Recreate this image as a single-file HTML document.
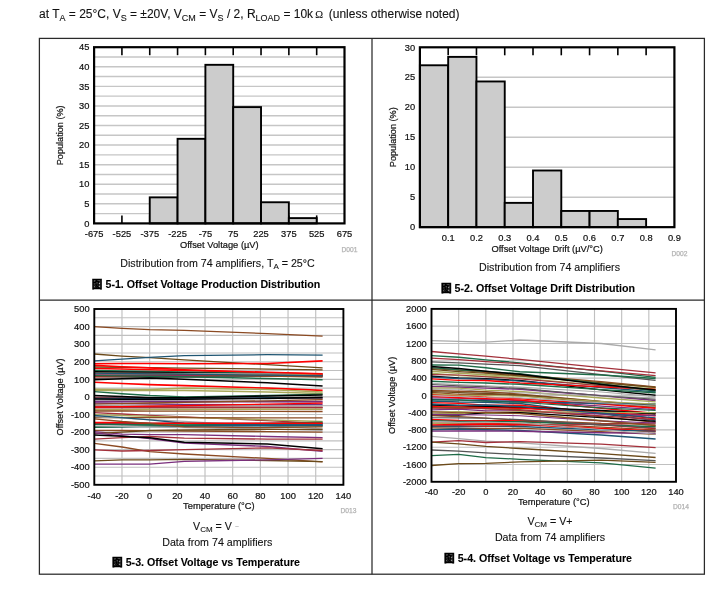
<!DOCTYPE html><html><head><meta charset="utf-8"><title>Typical Characteristics</title><style>html,body{margin:0;padding:0;background:#fff}body{width:725px;height:603px;overflow:hidden;position:relative}</style></head><body><svg width="725" height="603" viewBox="0 0 725 603" font-family="Liberation Sans, Arial, sans-serif" style="position:absolute;left:0;top:0"><style>text{stroke:#111;stroke-width:0.2px}.h{stroke-width:0.1px}.z{stroke-width:0.45px;stroke:#000}</style>
<rect width="725" height="603" fill="#fff"/>
<text class="h" x="39" y="18.3" font-size="12" fill="#111">at T<tspan font-size="9" dy="2.5">A</tspan><tspan dy="-2.5"> = 25°C, V</tspan><tspan font-size="9" dy="2.5">S</tspan><tspan dy="-2.5"> = ±20V, V</tspan><tspan font-size="9" dy="2.5">CM</tspan><tspan dy="-2.5"> = V</tspan><tspan font-size="9" dy="2.5">S</tspan><tspan dy="-2.5"> / 2, R</tspan><tspan font-size="9" dy="2.5">LOAD</tspan><tspan dy="-2.5"> = 10k</tspan><tspan font-size="10.5" dx="2" dy="-0.8" font-family="Liberation Serif, serif">Ω</tspan><tspan dx="2.5" dy="0.8"> (unless otherwise noted)</tspan></text>
<g stroke="#2a2a2a" stroke-width="1.25" fill="none">
<rect x="39.4" y="38.4" width="665.0" height="535.8000000000001"/>
<line x1="372" y1="38.4" x2="372" y2="574.2"/>
<line x1="39.4" y1="300" x2="704.4" y2="300"/>
</g>
<g stroke="#c6c6c6" stroke-width="1.45">
<line x1="94.1" y1="213.61" x2="344.5" y2="213.61"/>
<line x1="94.1" y1="203.82" x2="344.5" y2="203.82"/>
<line x1="94.1" y1="194.03" x2="344.5" y2="194.03"/>
<line x1="94.1" y1="184.24" x2="344.5" y2="184.24"/>
<line x1="94.1" y1="174.46" x2="344.5" y2="174.46"/>
<line x1="94.1" y1="164.67" x2="344.5" y2="164.67"/>
<line x1="94.1" y1="154.88" x2="344.5" y2="154.88"/>
<line x1="94.1" y1="145.09" x2="344.5" y2="145.09"/>
<line x1="94.1" y1="135.30" x2="344.5" y2="135.30"/>
<line x1="94.1" y1="125.51" x2="344.5" y2="125.51"/>
<line x1="94.1" y1="115.72" x2="344.5" y2="115.72"/>
<line x1="94.1" y1="105.93" x2="344.5" y2="105.93"/>
<line x1="94.1" y1="96.14" x2="344.5" y2="96.14"/>
<line x1="94.1" y1="86.36" x2="344.5" y2="86.36"/>
<line x1="94.1" y1="76.57" x2="344.5" y2="76.57"/>
<line x1="94.1" y1="66.78" x2="344.5" y2="66.78"/>
<line x1="94.1" y1="56.99" x2="344.5" y2="56.99"/>
</g>
<g stroke="#000" stroke-width="1.6">
<line x1="121.92" y1="47.2" x2="121.92" y2="55.2"/>
<line x1="121.92" y1="223.4" x2="121.92" y2="215.4"/>
<line x1="149.74" y1="47.2" x2="149.74" y2="55.2"/>
<line x1="149.74" y1="223.4" x2="149.74" y2="215.4"/>
<line x1="177.57" y1="47.2" x2="177.57" y2="55.2"/>
<line x1="177.57" y1="223.4" x2="177.57" y2="215.4"/>
<line x1="205.39" y1="47.2" x2="205.39" y2="55.2"/>
<line x1="205.39" y1="223.4" x2="205.39" y2="215.4"/>
<line x1="233.21" y1="47.2" x2="233.21" y2="55.2"/>
<line x1="233.21" y1="223.4" x2="233.21" y2="215.4"/>
<line x1="261.03" y1="47.2" x2="261.03" y2="55.2"/>
<line x1="261.03" y1="223.4" x2="261.03" y2="215.4"/>
<line x1="288.86" y1="47.2" x2="288.86" y2="55.2"/>
<line x1="288.86" y1="223.4" x2="288.86" y2="215.4"/>
<line x1="316.68" y1="47.2" x2="316.68" y2="55.2"/>
<line x1="316.68" y1="223.4" x2="316.68" y2="215.4"/>
</g>
<g fill="#cccccc" stroke="#000" stroke-width="1.9">
<rect x="149.74" y="197.36" width="27.82" height="26.04"/>
<rect x="177.57" y="138.82" width="27.82" height="84.58"/>
<rect x="205.39" y="64.82" width="27.82" height="158.58"/>
<rect x="233.21" y="107.11" width="27.82" height="116.29"/>
<rect x="261.03" y="202.26" width="27.82" height="21.14"/>
<rect x="288.86" y="218.11" width="27.82" height="5.29"/>
</g>
<rect x="94.1" y="47.2" width="250.4" height="176.2" fill="none" stroke="#000" stroke-width="2.2"/>
<text transform="translate(89.40,226.60) scale(1,1.06)" font-size="9.33" text-anchor="end" font-weight="normal" fill="#111" >0</text>
<text transform="translate(89.40,207.02) scale(1,1.06)" font-size="9.33" text-anchor="end" font-weight="normal" fill="#111" >5</text>
<text transform="translate(89.40,187.44) scale(1,1.06)" font-size="9.33" text-anchor="end" font-weight="normal" fill="#111" >10</text>
<text transform="translate(89.40,167.87) scale(1,1.06)" font-size="9.33" text-anchor="end" font-weight="normal" fill="#111" >15</text>
<text transform="translate(89.40,148.29) scale(1,1.06)" font-size="9.33" text-anchor="end" font-weight="normal" fill="#111" >20</text>
<text transform="translate(89.40,128.71) scale(1,1.06)" font-size="9.33" text-anchor="end" font-weight="normal" fill="#111" >25</text>
<text transform="translate(89.40,109.13) scale(1,1.06)" font-size="9.33" text-anchor="end" font-weight="normal" fill="#111" >30</text>
<text transform="translate(89.40,89.56) scale(1,1.06)" font-size="9.33" text-anchor="end" font-weight="normal" fill="#111" >35</text>
<text transform="translate(89.40,69.98) scale(1,1.06)" font-size="9.33" text-anchor="end" font-weight="normal" fill="#111" >40</text>
<text transform="translate(89.40,50.40) scale(1,1.06)" font-size="9.33" text-anchor="end" font-weight="normal" fill="#111" >45</text>
<text transform="translate(94.10,236.90) scale(1,1.06)" font-size="9.33" text-anchor="middle" font-weight="normal" fill="#111" >-675</text>
<text transform="translate(121.92,236.90) scale(1,1.06)" font-size="9.33" text-anchor="middle" font-weight="normal" fill="#111" >-525</text>
<text transform="translate(149.74,236.90) scale(1,1.06)" font-size="9.33" text-anchor="middle" font-weight="normal" fill="#111" >-375</text>
<text transform="translate(177.57,236.90) scale(1,1.06)" font-size="9.33" text-anchor="middle" font-weight="normal" fill="#111" >-225</text>
<text transform="translate(205.39,236.90) scale(1,1.06)" font-size="9.33" text-anchor="middle" font-weight="normal" fill="#111" >-75</text>
<text transform="translate(233.21,236.90) scale(1,1.06)" font-size="9.33" text-anchor="middle" font-weight="normal" fill="#111" >75</text>
<text transform="translate(261.03,236.90) scale(1,1.06)" font-size="9.33" text-anchor="middle" font-weight="normal" fill="#111" >225</text>
<text transform="translate(288.86,236.90) scale(1,1.06)" font-size="9.33" text-anchor="middle" font-weight="normal" fill="#111" >375</text>
<text transform="translate(316.68,236.90) scale(1,1.06)" font-size="9.33" text-anchor="middle" font-weight="normal" fill="#111" >525</text>
<text transform="translate(344.50,236.90) scale(1,1.06)" font-size="9.33" text-anchor="middle" font-weight="normal" fill="#111" >675</text>
<text transform="translate(219.30,248.40) scale(1,1.06)" font-size="9.33" text-anchor="middle" font-weight="normal" fill="#111" >Offset Voltage (µV)</text>
<text transform="translate(63.2,135.3) rotate(-90)" font-size="9.15" text-anchor="middle" fill="#111">Population (%)</text>
<text x="357.50" y="252.40" font-size="6.7" text-anchor="end" font-weight="normal" fill="#b4b4b4" style="stroke:#b4b4b4;stroke-width:0.25px">D001</text>
<g stroke="#c6c6c6" stroke-width="1.45">
<line x1="419.9" y1="197.18" x2="674.4" y2="197.18"/>
<line x1="419.9" y1="167.20" x2="674.4" y2="167.20"/>
<line x1="419.9" y1="137.22" x2="674.4" y2="137.22"/>
<line x1="419.9" y1="107.25" x2="674.4" y2="107.25"/>
<line x1="419.9" y1="77.27" x2="674.4" y2="77.27"/>
</g>
<g stroke="#000" stroke-width="1.6">
<line x1="448.18" y1="47.3" x2="448.18" y2="55.3"/>
<line x1="448.18" y1="227.15" x2="448.18" y2="219.15"/>
<line x1="476.46" y1="47.3" x2="476.46" y2="55.3"/>
<line x1="476.46" y1="227.15" x2="476.46" y2="219.15"/>
<line x1="504.73" y1="47.3" x2="504.73" y2="55.3"/>
<line x1="504.73" y1="227.15" x2="504.73" y2="219.15"/>
<line x1="533.01" y1="47.3" x2="533.01" y2="55.3"/>
<line x1="533.01" y1="227.15" x2="533.01" y2="219.15"/>
<line x1="561.29" y1="47.3" x2="561.29" y2="55.3"/>
<line x1="561.29" y1="227.15" x2="561.29" y2="219.15"/>
<line x1="589.57" y1="47.3" x2="589.57" y2="55.3"/>
<line x1="589.57" y1="227.15" x2="589.57" y2="219.15"/>
<line x1="617.84" y1="47.3" x2="617.84" y2="55.3"/>
<line x1="617.84" y1="227.15" x2="617.84" y2="219.15"/>
<line x1="646.12" y1="47.3" x2="646.12" y2="55.3"/>
<line x1="646.12" y1="227.15" x2="646.12" y2="219.15"/>
</g>
<g fill="#cccccc" stroke="#000" stroke-width="1.9">
<rect x="419.90" y="65.28" width="28.28" height="161.87"/>
<rect x="448.18" y="56.89" width="28.28" height="170.26"/>
<rect x="476.46" y="81.47" width="28.28" height="145.68"/>
<rect x="504.73" y="202.87" width="28.28" height="24.28"/>
<rect x="533.01" y="170.50" width="28.28" height="56.65"/>
<rect x="561.29" y="210.96" width="28.28" height="16.19"/>
<rect x="589.57" y="210.96" width="28.28" height="16.19"/>
<rect x="617.84" y="219.06" width="28.28" height="8.09"/>
</g>
<rect x="419.9" y="47.3" width="254.5" height="179.85000000000002" fill="none" stroke="#000" stroke-width="2.2"/>
<text transform="translate(415.20,230.35) scale(1,1.06)" font-size="9.33" text-anchor="end" font-weight="normal" fill="#111" >0</text>
<text transform="translate(415.20,200.38) scale(1,1.06)" font-size="9.33" text-anchor="end" font-weight="normal" fill="#111" >5</text>
<text transform="translate(415.20,170.40) scale(1,1.06)" font-size="9.33" text-anchor="end" font-weight="normal" fill="#111" >10</text>
<text transform="translate(415.20,140.42) scale(1,1.06)" font-size="9.33" text-anchor="end" font-weight="normal" fill="#111" >15</text>
<text transform="translate(415.20,110.45) scale(1,1.06)" font-size="9.33" text-anchor="end" font-weight="normal" fill="#111" >20</text>
<text transform="translate(415.20,80.47) scale(1,1.06)" font-size="9.33" text-anchor="end" font-weight="normal" fill="#111" >25</text>
<text transform="translate(415.20,50.50) scale(1,1.06)" font-size="9.33" text-anchor="end" font-weight="normal" fill="#111" >30</text>
<text transform="translate(448.18,240.65) scale(1,1.06)" font-size="9.33" text-anchor="middle" font-weight="normal" fill="#111" >0.1</text>
<text transform="translate(476.46,240.65) scale(1,1.06)" font-size="9.33" text-anchor="middle" font-weight="normal" fill="#111" >0.2</text>
<text transform="translate(504.73,240.65) scale(1,1.06)" font-size="9.33" text-anchor="middle" font-weight="normal" fill="#111" >0.3</text>
<text transform="translate(533.01,240.65) scale(1,1.06)" font-size="9.33" text-anchor="middle" font-weight="normal" fill="#111" >0.4</text>
<text transform="translate(561.29,240.65) scale(1,1.06)" font-size="9.33" text-anchor="middle" font-weight="normal" fill="#111" >0.5</text>
<text transform="translate(589.57,240.65) scale(1,1.06)" font-size="9.33" text-anchor="middle" font-weight="normal" fill="#111" >0.6</text>
<text transform="translate(617.84,240.65) scale(1,1.06)" font-size="9.33" text-anchor="middle" font-weight="normal" fill="#111" >0.7</text>
<text transform="translate(646.12,240.65) scale(1,1.06)" font-size="9.33" text-anchor="middle" font-weight="normal" fill="#111" >0.8</text>
<text transform="translate(674.40,240.65) scale(1,1.06)" font-size="9.33" text-anchor="middle" font-weight="normal" fill="#111" >0.9</text>
<text transform="translate(547.15,251.65) scale(1,1.06)" font-size="9.33" text-anchor="middle" font-weight="normal" fill="#111" >Offset Voltage Drift (µV/°C)</text>
<text transform="translate(396,137.225) rotate(-90)" font-size="9.15" text-anchor="middle" fill="#111">Population (%)</text>
<text x="687.40" y="256.15" font-size="6.7" text-anchor="end" font-weight="normal" fill="#b4b4b4" style="stroke:#b4b4b4;stroke-width:0.25px">D002</text>
<text class="h" x="217.5" y="267" font-size="10.67" text-anchor="middle" fill="#111">Distribution from 74 amplifiers, T<tspan font-size="8" dy="2">A</tspan><tspan dy="-2"> = 25°C</tspan></text>
<text class="h" x="206" y="287.5" font-size="10.67" font-weight="bold" text-anchor="middle" fill="#000"><tspan class="z" font-family="Noto Sans CJK SC, sans-serif" font-weight="900">图</tspan> 5-1. Offset Voltage Production Distribution</text>
<text x="549.50" y="271.00" font-size="10.67" text-anchor="middle" font-weight="normal" fill="#111" class="h">Distribution from 74 amplifiers</text>
<text class="h" x="538" y="291.5" font-size="10.67" font-weight="bold" text-anchor="middle" fill="#000"><tspan class="z" font-family="Noto Sans CJK SC, sans-serif" font-weight="900">图</tspan> 5-2. Offset Voltage Drift Distribution</text>
<g stroke="#c0c0c0" stroke-width="1.15">
<line x1="94.3" y1="476.01" x2="343.4" y2="476.01"/>
<line x1="94.3" y1="467.22" x2="343.4" y2="467.22"/>
<line x1="94.3" y1="458.43" x2="343.4" y2="458.43"/>
<line x1="94.3" y1="449.64" x2="343.4" y2="449.64"/>
<line x1="94.3" y1="440.85" x2="343.4" y2="440.85"/>
<line x1="94.3" y1="432.06" x2="343.4" y2="432.06"/>
<line x1="94.3" y1="423.27" x2="343.4" y2="423.27"/>
<line x1="94.3" y1="414.48" x2="343.4" y2="414.48"/>
<line x1="94.3" y1="405.69" x2="343.4" y2="405.69"/>
<line x1="94.3" y1="396.90" x2="343.4" y2="396.90"/>
<line x1="94.3" y1="388.11" x2="343.4" y2="388.11"/>
<line x1="94.3" y1="379.32" x2="343.4" y2="379.32"/>
<line x1="94.3" y1="370.53" x2="343.4" y2="370.53"/>
<line x1="94.3" y1="361.74" x2="343.4" y2="361.74"/>
<line x1="94.3" y1="352.95" x2="343.4" y2="352.95"/>
<line x1="94.3" y1="344.16" x2="343.4" y2="344.16"/>
<line x1="94.3" y1="335.37" x2="343.4" y2="335.37"/>
<line x1="94.3" y1="326.58" x2="343.4" y2="326.58"/>
<line x1="94.3" y1="317.79" x2="343.4" y2="317.79"/>
<line x1="121.98" y1="309" x2="121.98" y2="484.8"/>
<line x1="149.66" y1="309" x2="149.66" y2="484.8"/>
<line x1="177.33" y1="309" x2="177.33" y2="484.8"/>
<line x1="205.01" y1="309" x2="205.01" y2="484.8"/>
<line x1="232.69" y1="309" x2="232.69" y2="484.8"/>
<line x1="260.37" y1="309" x2="260.37" y2="484.8"/>
<line x1="288.04" y1="309" x2="288.04" y2="484.8"/>
<line x1="315.72" y1="309" x2="315.72" y2="484.8"/>
</g>
<g fill="none" stroke-width="1.30" stroke-linejoin="round">
<polyline points="94.3,368.4 122.0,369.1 149.7,369.8 184.3,370.6 267.3,372.7 322.6,374.0" stroke="#ff0000" stroke-width="1.50"/>
<polyline points="94.3,370.5 122.0,371.0 149.7,371.5 184.3,372.1 267.3,373.5 322.6,374.4" stroke="#1e6b47" stroke-width="1.60"/>
<polyline points="94.3,371.8 122.0,372.1 149.7,372.5 184.3,373.0 267.3,374.2 322.6,374.9" stroke="#000000" stroke-width="1.60"/>
<polyline points="94.3,373.3 122.0,373.4 149.7,373.5 184.3,373.6 267.3,373.9 322.6,374.0" stroke="#ababab"/>
<polyline points="94.3,374.4 122.0,374.5 149.7,374.5 184.3,374.6 267.3,374.8 322.6,374.9" stroke="#a8a85a"/>
<polyline points="94.3,375.1 122.0,375.2 149.7,375.3 184.3,375.4 267.3,375.6 322.6,375.8" stroke="#7a2f7d" stroke-width="1.50"/>
<polyline points="94.3,376.7 122.0,376.6 149.7,376.6 184.3,376.5 267.3,376.3 322.6,376.2" stroke="#ff0000" stroke-width="1.50"/>
<polyline points="94.3,378.3 122.0,377.9 149.7,377.6 184.3,377.2 267.3,376.1 322.6,375.5" stroke="#555555"/>
<polyline points="94.3,375.8 122.0,376.0 149.7,376.3 184.3,376.7 267.3,378.4 322.6,379.8" stroke="#1e6b47" stroke-width="1.50"/>
<polyline points="94.3,367.0 122.0,367.4 149.7,367.7 184.3,368.1 267.3,369.1 322.6,369.8" stroke="#6b4a1a"/>
<polyline points="94.3,372.6 122.0,373.2 149.7,373.7 184.3,374.4 267.3,376.0 322.6,377.0" stroke="#8b4a22"/>
<polyline points="94.3,373.2 122.0,373.5 149.7,373.8 184.3,374.2 267.3,375.2 322.6,375.8" stroke="#1f5673"/>
<polyline points="94.3,390.4 122.0,390.4 149.7,390.4 184.3,390.6 267.3,391.9 322.6,393.4" stroke="#a8a85a" stroke-width="1.50"/>
<polyline points="94.3,397.3 122.0,397.4 149.7,397.6 184.3,397.8 267.3,398.3 322.6,398.7" stroke="#a3303a"/>
<polyline points="94.3,398.5 122.0,398.4 149.7,398.3 184.3,398.2 267.3,397.9 322.6,397.8" stroke="#1f5673" stroke-width="1.60"/>
<polyline points="94.3,400.1 122.0,400.3 149.7,400.6 184.3,400.9 267.3,401.7 322.6,402.2" stroke="#ababab"/>
<polyline points="94.3,401.6 122.0,401.6 149.7,401.6 184.3,401.6 267.3,401.6 322.6,401.6" stroke="#7a2f7d" stroke-width="1.60"/>
<polyline points="94.3,402.9 122.0,403.5 149.7,404.0 184.3,404.6 267.3,404.9 322.6,404.6" stroke="#7a2f7d" stroke-width="1.50"/>
<polyline points="94.3,404.1 122.0,403.6 149.7,403.0 184.3,402.4 267.3,400.8 322.6,399.7" stroke="#8b4a22"/>
<polyline points="94.3,405.3 122.0,405.4 149.7,405.5 184.3,405.6 267.3,405.9 322.6,406.0" stroke="#ababab"/>
<polyline points="94.3,406.6 122.0,406.7 149.7,406.9 184.3,407.1 267.3,407.5 322.6,407.8" stroke="#a3303a" stroke-width="1.60"/>
<polyline points="94.3,407.8 122.0,407.8 149.7,407.7 184.3,407.7 267.3,407.5 322.6,407.4" stroke="#a3303a" stroke-width="1.40"/>
<polyline points="94.3,409.7 122.0,409.7 149.7,409.6 184.3,409.5 267.3,409.3 322.6,409.2" stroke="#a8a85a" stroke-width="1.50"/>
<polyline points="94.3,411.0 122.0,411.0 149.7,411.1 184.3,411.2 267.3,411.4 322.6,411.5" stroke="#8b4a22"/>
<polyline points="94.3,412.7 122.0,414.0 149.7,415.3 184.3,416.9 267.3,420.7 322.6,423.3" stroke="#a3303a" stroke-width="1.30"/>
<polyline points="94.3,414.7 122.0,415.5 149.7,416.3 184.3,417.4 267.3,419.8 322.6,421.5" stroke="#a8a85a" stroke-width="1.30"/>
<polyline points="94.3,407.1 122.0,406.6 149.7,406.2 184.3,405.6 267.3,404.2 322.6,403.2" stroke="#ff0000" stroke-width="1.20"/>
<polyline points="94.3,399.0 122.0,399.2 149.7,399.3 184.3,399.3 267.3,398.4 322.6,397.3" stroke="#000000" stroke-width="1.60"/>
<polyline points="94.3,417.6 122.0,417.7 149.7,417.7 184.3,417.7 267.3,417.8 322.6,417.8" stroke="#8b4a22"/>
<polyline points="94.3,416.6 122.0,418.1 149.7,419.6 184.3,421.4 267.3,425.9 322.6,428.9" stroke="#ababab"/>
<polyline points="94.3,423.3 122.0,423.3 149.7,423.4 184.3,423.4 267.3,423.5 322.6,423.6" stroke="#1f5673" stroke-width="1.50"/>
<polyline points="94.3,424.3 122.0,424.5 149.7,424.7 184.3,424.9 267.3,425.5 322.6,425.9" stroke="#1e6b47" stroke-width="1.50"/>
<polyline points="94.3,426.8 122.0,426.6 149.7,426.4 184.3,426.1 267.3,425.5 322.6,425.0" stroke="#1f5673" stroke-width="1.80"/>
<polyline points="94.3,427.1 122.0,426.6 149.7,426.0 184.3,425.3 267.3,423.5 322.6,422.4" stroke="#1e6b47" stroke-width="1.60"/>
<polyline points="94.3,425.9 122.0,426.4 149.7,427.0 184.3,427.6 267.3,429.2 322.6,430.3" stroke="#ababab"/>
<polyline points="94.3,430.3 122.0,430.5 149.7,430.7 184.3,431.0 267.3,431.6 322.6,432.1" stroke="#8b4a22"/>
<polyline points="94.3,326.6 122.0,328.3 149.7,329.6 184.3,330.4 267.3,333.6 322.6,336.2" stroke="#8b4a22"/>
<polyline points="94.3,354.0 122.0,356.1 149.7,357.7 184.3,359.8 267.3,364.7 322.6,367.9" stroke="#6b4a1a"/>
<polyline points="94.3,360.9 122.0,359.1 149.7,357.3 184.3,355.6 267.3,354.7 322.6,355.2" stroke="#1f5673"/>
<polyline points="94.3,363.7 122.0,363.5 149.7,363.5 184.3,363.8 267.3,363.5 322.6,360.9" stroke="#ff0000" stroke-width="1.60"/>
<polyline points="94.3,365.4 122.0,366.7 149.7,367.9 184.3,369.7 267.3,372.3 322.6,373.9" stroke="#ff0000" stroke-width="1.60"/>
<polyline points="94.3,379.8 122.0,378.8 149.7,377.9 184.3,379.3 267.3,382.8 322.6,386.0" stroke="#000000" stroke-width="1.50"/>
<polyline points="94.3,382.3 122.0,383.5 149.7,384.6 184.3,385.6 267.3,388.1 322.6,390.4" stroke="#ff0000" stroke-width="1.60"/>
<polyline points="94.3,389.2 122.0,389.5 149.7,389.5 184.3,388.1 267.3,389.5 322.6,392.0" stroke="#a8a85a" stroke-width="1.60"/>
<polyline points="94.3,391.6 122.0,393.7 149.7,395.5 184.3,396.9 267.3,395.5 322.6,394.1" stroke="#1e6b47" stroke-width="1.40"/>
<polyline points="94.3,395.5 122.0,396.5 149.7,397.8 184.3,397.8 267.3,396.0 322.6,395.0" stroke="#000000" stroke-width="1.60"/>
<polyline points="94.3,415.5 122.0,417.6 149.7,419.9 184.3,423.3 267.3,424.7 322.6,425.0" stroke="#1f5673" stroke-width="1.40"/>
<polyline points="94.3,422.6 122.0,422.6 149.7,423.3 184.3,423.3 267.3,423.3 322.6,423.3" stroke="#ff0000" stroke-width="1.60"/>
<polyline points="94.3,418.9 122.0,421.5 149.7,423.3 184.3,426.8 267.3,427.7 322.6,426.8" stroke="#8b4a22"/>
<polyline points="94.3,431.7 122.0,434.2 149.7,434.7 184.3,434.7 267.3,436.5 322.6,437.7" stroke="#7a2f7d"/>
<polyline points="94.3,433.6 122.0,432.1 149.7,430.5 184.3,430.0 267.3,429.4 322.6,429.4" stroke="#6b4a1a"/>
<polyline points="94.3,439.1 122.0,437.7 149.7,436.5 184.3,438.2 267.3,439.1 322.6,439.1" stroke="#a3303a"/>
<polyline points="94.3,432.9 122.0,435.9 149.7,438.7 184.3,443.0 267.3,446.5 322.6,451.4" stroke="#7a2f7d"/>
<polyline points="94.3,434.9 122.0,436.3 149.7,437.7 184.3,442.3 267.3,444.0 322.6,448.8" stroke="#000000" stroke-width="1.50"/>
<polyline points="94.3,443.3 122.0,447.0 149.7,451.6 184.3,454.0 267.3,458.4 322.6,461.9" stroke="#8b4a22"/>
<polyline points="94.3,449.8 122.0,451.0 149.7,450.5 184.3,449.6 267.3,447.9 322.6,450.5" stroke="#a3303a"/>
<polyline points="94.3,460.9 122.0,459.8 149.7,459.8 184.3,459.3 267.3,460.5 322.6,461.6" stroke="#6b4a1a"/>
<polyline points="94.3,464.1 122.0,464.1 149.7,464.1 184.3,461.4 267.3,459.8 322.6,458.4" stroke="#7a2f7d"/>
</g>
<rect x="94.3" y="309" width="249.09999999999997" height="175.8" fill="none" stroke="#000" stroke-width="1.9"/>
<text transform="translate(89.60,488.00) scale(1,1.06)" font-size="9.33" text-anchor="end" font-weight="normal" fill="#111" >-500</text>
<text transform="translate(89.60,470.42) scale(1,1.06)" font-size="9.33" text-anchor="end" font-weight="normal" fill="#111" >-400</text>
<text transform="translate(89.60,452.84) scale(1,1.06)" font-size="9.33" text-anchor="end" font-weight="normal" fill="#111" >-300</text>
<text transform="translate(89.60,435.26) scale(1,1.06)" font-size="9.33" text-anchor="end" font-weight="normal" fill="#111" >-200</text>
<text transform="translate(89.60,417.68) scale(1,1.06)" font-size="9.33" text-anchor="end" font-weight="normal" fill="#111" >-100</text>
<text transform="translate(89.60,400.10) scale(1,1.06)" font-size="9.33" text-anchor="end" font-weight="normal" fill="#111" >0</text>
<text transform="translate(89.60,382.52) scale(1,1.06)" font-size="9.33" text-anchor="end" font-weight="normal" fill="#111" >100</text>
<text transform="translate(89.60,364.94) scale(1,1.06)" font-size="9.33" text-anchor="end" font-weight="normal" fill="#111" >200</text>
<text transform="translate(89.60,347.36) scale(1,1.06)" font-size="9.33" text-anchor="end" font-weight="normal" fill="#111" >300</text>
<text transform="translate(89.60,329.78) scale(1,1.06)" font-size="9.33" text-anchor="end" font-weight="normal" fill="#111" >400</text>
<text transform="translate(89.60,312.20) scale(1,1.06)" font-size="9.33" text-anchor="end" font-weight="normal" fill="#111" >500</text>
<text transform="translate(94.30,499.00) scale(1,1.06)" font-size="9.33" text-anchor="middle" font-weight="normal" fill="#111" >-40</text>
<text transform="translate(121.98,499.00) scale(1,1.06)" font-size="9.33" text-anchor="middle" font-weight="normal" fill="#111" >-20</text>
<text transform="translate(149.66,499.00) scale(1,1.06)" font-size="9.33" text-anchor="middle" font-weight="normal" fill="#111" >0</text>
<text transform="translate(177.33,499.00) scale(1,1.06)" font-size="9.33" text-anchor="middle" font-weight="normal" fill="#111" >20</text>
<text transform="translate(205.01,499.00) scale(1,1.06)" font-size="9.33" text-anchor="middle" font-weight="normal" fill="#111" >40</text>
<text transform="translate(232.69,499.00) scale(1,1.06)" font-size="9.33" text-anchor="middle" font-weight="normal" fill="#111" >60</text>
<text transform="translate(260.37,499.00) scale(1,1.06)" font-size="9.33" text-anchor="middle" font-weight="normal" fill="#111" >80</text>
<text transform="translate(288.04,499.00) scale(1,1.06)" font-size="9.33" text-anchor="middle" font-weight="normal" fill="#111" >100</text>
<text transform="translate(315.72,499.00) scale(1,1.06)" font-size="9.33" text-anchor="middle" font-weight="normal" fill="#111" >120</text>
<text transform="translate(343.40,499.00) scale(1,1.06)" font-size="9.33" text-anchor="middle" font-weight="normal" fill="#111" >140</text>
<text transform="translate(218.85,509.30) scale(1,1.06)" font-size="9.33" text-anchor="middle" font-weight="normal" fill="#111" >Temperature (°C)</text>
<text transform="translate(63,396.9) rotate(-90)" font-size="9.15" text-anchor="middle" fill="#111">Offset Voltage (µV)</text>
<text x="356.40" y="512.80" font-size="6.7" text-anchor="end" font-weight="normal" fill="#b4b4b4" style="stroke:#b4b4b4;stroke-width:0.25px">D013</text>
<g stroke="#c0c0c0" stroke-width="1.15">
<line x1="431.5" y1="464.51" x2="676.0" y2="464.51"/>
<line x1="431.5" y1="447.22" x2="676.0" y2="447.22"/>
<line x1="431.5" y1="429.93" x2="676.0" y2="429.93"/>
<line x1="431.5" y1="412.64" x2="676.0" y2="412.64"/>
<line x1="431.5" y1="395.35" x2="676.0" y2="395.35"/>
<line x1="431.5" y1="378.06" x2="676.0" y2="378.06"/>
<line x1="431.5" y1="360.77" x2="676.0" y2="360.77"/>
<line x1="431.5" y1="343.48" x2="676.0" y2="343.48"/>
<line x1="431.5" y1="326.19" x2="676.0" y2="326.19"/>
<line x1="458.67" y1="308.9" x2="458.67" y2="481.8"/>
<line x1="485.83" y1="308.9" x2="485.83" y2="481.8"/>
<line x1="513.00" y1="308.9" x2="513.00" y2="481.8"/>
<line x1="540.17" y1="308.9" x2="540.17" y2="481.8"/>
<line x1="567.33" y1="308.9" x2="567.33" y2="481.8"/>
<line x1="594.50" y1="308.9" x2="594.50" y2="481.8"/>
<line x1="621.67" y1="308.9" x2="621.67" y2="481.8"/>
<line x1="648.83" y1="308.9" x2="648.83" y2="481.8"/>
</g>
<g fill="none" stroke-width="1.10" stroke-linejoin="round">
<polyline points="431.5,371.2 458.7,373.3 485.8,374.8 519.8,376.3 601.3,382.8 655.6,387.6" stroke="#a8a85a" stroke-width="1.53"/>
<polyline points="431.5,373.1 458.7,375.6 485.8,376.2 519.8,378.1 601.3,385.5 655.6,388.9" stroke="#a8a85a" stroke-width="1.36"/>
<polyline points="431.5,368.7 458.7,370.2 485.8,372.5 519.8,375.0 601.3,381.6 655.6,386.9" stroke="#8b4a22" stroke-width="1.27"/>
<polyline points="431.5,369.4 458.7,371.6 485.8,373.2 519.8,375.9 601.3,382.9 655.6,387.4" stroke="#6b4a1a"/>
<polyline points="431.5,376.2 458.7,377.9 485.8,378.8 519.8,380.5 601.3,389.9 655.6,395.2" stroke="#000000" stroke-width="1.36"/>
<polyline points="431.5,377.2 458.7,378.5 485.8,379.3 519.8,381.1 601.3,387.5 655.6,391.9" stroke="#1f5673" stroke-width="1.27"/>
<polyline points="431.5,378.9 458.7,380.4 485.8,380.5 519.8,383.0 601.3,386.9 655.6,389.5" stroke="#ff0000" stroke-width="1.44"/>
<polyline points="431.5,381.2 458.7,382.4 485.8,383.0 519.8,384.3 601.3,389.6 655.6,392.7" stroke="#1e6b47" stroke-width="1.44"/>
<polyline points="431.5,383.2 458.7,384.6 485.8,385.8 519.8,387.1 601.3,392.0 655.6,396.6" stroke="#ababab"/>
<polyline points="431.5,386.4 458.7,387.3 485.8,388.1 519.8,389.3 601.3,395.7 655.6,400.5" stroke="#7a2f7d" stroke-width="1.36"/>
<polyline points="431.5,388.0 458.7,388.2 485.8,390.2 519.8,391.5 601.3,398.0 655.6,401.8" stroke="#a8a85a" stroke-width="1.27"/>
<polyline points="431.5,389.3 458.7,389.3 485.8,392.1 519.8,392.8 601.3,396.0 655.6,397.9" stroke="#ababab"/>
<polyline points="431.5,390.5 458.7,391.3 485.8,391.7 519.8,394.1 601.3,401.4 655.6,405.6" stroke="#8b4a22" stroke-width="1.36"/>
<polyline points="431.5,392.4 458.7,394.4 485.8,394.0 519.8,395.6 601.3,402.9 655.6,407.5" stroke="#8b4a22" stroke-width="1.36"/>
<polyline points="431.5,391.5 458.7,392.7 485.8,393.4 519.8,394.9 601.3,401.7 655.6,406.4" stroke="#6b4a1a" stroke-width="1.19"/>
<polyline points="431.5,394.3 458.7,395.5 485.8,397.2 519.8,398.8 601.3,404.0 655.6,408.3" stroke="#ff0000" stroke-width="1.36"/>
<polyline points="431.5,397.9 458.7,398.1 485.8,399.5 519.8,400.5 601.3,406.2 655.6,409.6" stroke="#7a2f7d" stroke-width="1.27"/>
<polyline points="431.5,399.5 458.7,399.9 485.8,400.7 519.8,401.8 601.3,403.6 655.6,404.0" stroke="#1f5673" stroke-width="1.53"/>
<polyline points="431.5,401.1 458.7,402.1 485.8,402.2 519.8,403.6 601.3,413.8 655.6,420.5" stroke="#1f5673" stroke-width="1.53"/>
<polyline points="431.5,396.4 458.7,397.7 485.8,398.6 519.8,400.1 601.3,408.2 655.6,413.5" stroke="#ff0000" stroke-width="1.36"/>
<polyline points="431.5,402.6 458.7,403.4 485.8,405.1 519.8,405.3 601.3,412.6 655.6,418.7" stroke="#ff0000" stroke-width="1.44"/>
<polyline points="431.5,404.9 458.7,405.6 485.8,406.8 519.8,407.5 601.3,410.8 655.6,413.7" stroke="#000000" stroke-width="1.87"/>
<polyline points="431.5,406.6 458.7,407.0 485.8,407.7 519.8,408.3 601.3,412.3 655.6,415.7" stroke="#ff0000" stroke-width="1.36"/>
<polyline points="431.5,407.6 458.7,407.3 485.8,408.6 519.8,409.6 601.3,416.6 655.6,422.4" stroke="#8b4a22" stroke-width="1.27"/>
<polyline points="431.5,409.8 458.7,409.2 485.8,410.9 519.8,410.9 601.3,414.0 655.6,415.7" stroke="#7a2f7d" stroke-width="1.27"/>
<polyline points="431.5,411.9 458.7,411.6 485.8,412.6 519.8,411.8 601.3,412.4 655.6,412.6" stroke="#a8a85a" stroke-width="1.36"/>
<polyline points="431.5,413.9 458.7,413.2 485.8,413.2 519.8,413.5 601.3,420.5 655.6,425.6" stroke="#a8a85a" stroke-width="1.36"/>
<polyline points="431.5,415.1 458.7,415.2 485.8,412.6 519.8,412.6 601.3,417.6 655.6,421.3" stroke="#000000" stroke-width="1.27"/>
<polyline points="431.5,415.7 458.7,416.7 485.8,418.2 519.8,420.1 601.3,423.3 655.6,424.2" stroke="#8b4a22" stroke-width="1.19"/>
<polyline points="431.5,419.5 458.7,420.5 485.8,420.8 519.8,420.9 601.3,424.7 655.6,428.6" stroke="#ff0000" stroke-width="1.53"/>
<polyline points="431.5,420.7 458.7,421.4 485.8,421.4 519.8,421.7 601.3,424.8 655.6,426.7" stroke="#1e6b47" stroke-width="1.36"/>
<polyline points="431.5,423.2 458.7,423.0 485.8,423.1 519.8,423.4 601.3,427.2 655.6,429.9" stroke="#8b4a22" stroke-width="1.27"/>
<polyline points="431.5,423.4 458.7,424.1 485.8,425.1 519.8,423.9 601.3,428.7 655.6,432.1" stroke="#a8a85a" stroke-width="1.27"/>
<polyline points="431.5,425.0 458.7,424.7 485.8,424.1 519.8,424.3 601.3,428.5 655.6,431.2" stroke="#ff0000" stroke-width="1.70"/>
<polyline points="431.5,426.5 458.7,426.7 485.8,426.3 519.8,426.5 601.3,429.9 655.6,431.1" stroke="#1f5673" stroke-width="1.36"/>
<polyline points="431.5,427.8 458.7,428.4 485.8,428.5 519.8,428.2 601.3,431.7 655.6,434.3" stroke="#8b4a22" stroke-width="1.27"/>
<polyline points="431.5,429.8 458.7,429.1 485.8,429.8 519.8,430.4 601.3,435.1 655.6,439.0" stroke="#1f5673" stroke-width="1.53"/>
<polyline points="431.5,431.1 458.7,431.0 485.8,431.0 519.8,431.2 601.3,432.7 655.6,433.4" stroke="#7a2f7d" stroke-width="1.36"/>
<polyline points="431.5,425.6 458.7,425.6 485.8,426.4 519.8,425.2 601.3,424.4 655.6,423.0" stroke="#a3303a"/>
<polyline points="431.5,421.3 458.7,422.4 485.8,422.0 519.8,423.0 601.3,429.5 655.6,434.3" stroke="#ababab"/>
<polyline points="431.5,417.8 458.7,417.9 485.8,418.2 519.8,419.6 601.3,424.9 655.6,428.2" stroke="#555555"/>
<polyline points="431.5,408.3 458.7,408.5 485.8,408.8 519.8,410.5 601.3,415.9 655.6,419.6" stroke="#a3303a"/>
<polyline points="431.5,399.7 458.7,400.0 485.8,401.3 519.8,402.3 601.3,407.9 655.6,410.5" stroke="#1e6b47"/>
<polyline points="431.5,395.8 458.7,396.4 485.8,397.5 519.8,397.9 601.3,402.8 655.6,406.2" stroke="#ababab"/>
<polyline points="431.5,384.5 458.7,385.9 485.8,386.8 519.8,388.4 601.3,395.8 655.6,399.2" stroke="#555555"/>
<polyline points="431.5,374.6 458.7,375.0 485.8,376.7 519.8,378.9 601.3,385.8 655.6,390.2" stroke="#a3303a"/>
<polyline points="431.5,367.7 458.7,369.9 485.8,371.4 519.8,373.7 601.3,383.8 655.6,391.0" stroke="#1e6b47" stroke-width="1.27"/>
<polyline points="431.5,414.4 458.7,414.6 485.8,415.0 519.8,415.7 601.3,420.9 655.6,423.0" stroke="#7a2f7d"/>
<polyline points="431.5,404.0 458.7,405.3 485.8,405.0 519.8,406.6 601.3,413.2 655.6,417.8" stroke="#1f5673" stroke-width="1.27"/>
<polyline points="431.5,393.6 458.7,395.1 485.8,395.6 519.8,396.2 601.3,401.5 655.6,404.0" stroke="#a8a85a"/>
<polyline points="431.5,411.8 458.7,412.7 485.8,412.3 519.8,413.5 601.3,420.9 655.6,425.6" stroke="#8b4a22"/>
<polyline points="431.5,366.5 458.7,368.4 485.8,371.2 519.8,374.3 601.3,384.4 655.6,390.0" stroke="#000000" stroke-width="1.53"/>
<polyline points="431.5,340.7 458.7,341.3 485.8,342.2 519.8,340.0 601.3,343.5 655.6,349.8" stroke="#ababab" stroke-width="1.27"/>
<polyline points="431.5,351.5 458.7,353.9 485.8,356.2 519.8,359.4 601.3,367.7 655.6,372.9" stroke="#a3303a" stroke-width="1.27"/>
<polyline points="431.5,355.6 458.7,357.3 485.8,359.9 519.8,362.9 601.3,371.1 655.6,377.4" stroke="#1e6b47" stroke-width="1.36"/>
<polyline points="431.5,358.1 458.7,359.7 485.8,361.6 519.8,363.7 601.3,370.9 655.6,375.7" stroke="#a3303a" stroke-width="1.27"/>
<polyline points="431.5,361.9 458.7,362.9 485.8,364.2 519.8,365.6 601.3,374.6 655.6,380.3" stroke="#555555" stroke-width="1.27"/>
<polyline points="431.5,365.0 458.7,365.1 485.8,367.7 519.8,371.8 601.3,375.0 655.6,378.5" stroke="#1e6b47" stroke-width="1.36"/>
<polyline points="431.5,436.3 458.7,438.6 485.8,441.2 519.8,442.9 601.3,448.5 655.6,453.4" stroke="#ababab" stroke-width="1.27"/>
<polyline points="431.5,442.2 458.7,440.7 485.8,442.5 519.8,441.6 601.3,444.2 655.6,447.7" stroke="#a3303a" stroke-width="1.27"/>
<polyline points="431.5,442.2 458.7,443.8 485.8,446.4 519.8,448.5 601.3,453.7 655.6,457.5" stroke="#6b4a1a" stroke-width="1.27"/>
<polyline points="431.5,450.0 458.7,451.1 485.8,452.8 519.8,454.6 601.3,458.0 655.6,460.6" stroke="#555555" stroke-width="1.27"/>
<polyline points="431.5,455.6 458.7,454.4 485.8,457.6 519.8,459.3 601.3,462.8 655.6,468.1" stroke="#1e6b47" stroke-width="1.27"/>
<polyline points="431.5,465.5 458.7,463.6 485.8,463.4 519.8,461.9 601.3,460.2 655.6,462.3" stroke="#6b4a1a" stroke-width="1.27"/>
</g>
<rect x="431.5" y="308.9" width="244.5" height="172.90000000000003" fill="none" stroke="#000" stroke-width="1.9"/>
<text transform="translate(426.80,485.00) scale(1,1.06)" font-size="9.33" text-anchor="end" font-weight="normal" fill="#111" >-2000</text>
<text transform="translate(426.80,467.71) scale(1,1.06)" font-size="9.33" text-anchor="end" font-weight="normal" fill="#111" >-1600</text>
<text transform="translate(426.80,450.42) scale(1,1.06)" font-size="9.33" text-anchor="end" font-weight="normal" fill="#111" >-1200</text>
<text transform="translate(426.80,433.13) scale(1,1.06)" font-size="9.33" text-anchor="end" font-weight="normal" fill="#111" >-800</text>
<text transform="translate(426.80,415.84) scale(1,1.06)" font-size="9.33" text-anchor="end" font-weight="normal" fill="#111" >-400</text>
<text transform="translate(426.80,398.55) scale(1,1.06)" font-size="9.33" text-anchor="end" font-weight="normal" fill="#111" >0</text>
<text transform="translate(426.80,381.26) scale(1,1.06)" font-size="9.33" text-anchor="end" font-weight="normal" fill="#111" >400</text>
<text transform="translate(426.80,363.97) scale(1,1.06)" font-size="9.33" text-anchor="end" font-weight="normal" fill="#111" >800</text>
<text transform="translate(426.80,346.68) scale(1,1.06)" font-size="9.33" text-anchor="end" font-weight="normal" fill="#111" >1200</text>
<text transform="translate(426.80,329.39) scale(1,1.06)" font-size="9.33" text-anchor="end" font-weight="normal" fill="#111" >1600</text>
<text transform="translate(426.80,312.10) scale(1,1.06)" font-size="9.33" text-anchor="end" font-weight="normal" fill="#111" >2000</text>
<text transform="translate(431.50,495.30) scale(1,1.06)" font-size="9.33" text-anchor="middle" font-weight="normal" fill="#111" >-40</text>
<text transform="translate(458.67,495.30) scale(1,1.06)" font-size="9.33" text-anchor="middle" font-weight="normal" fill="#111" >-20</text>
<text transform="translate(485.83,495.30) scale(1,1.06)" font-size="9.33" text-anchor="middle" font-weight="normal" fill="#111" >0</text>
<text transform="translate(513.00,495.30) scale(1,1.06)" font-size="9.33" text-anchor="middle" font-weight="normal" fill="#111" >20</text>
<text transform="translate(540.17,495.30) scale(1,1.06)" font-size="9.33" text-anchor="middle" font-weight="normal" fill="#111" >40</text>
<text transform="translate(567.33,495.30) scale(1,1.06)" font-size="9.33" text-anchor="middle" font-weight="normal" fill="#111" >60</text>
<text transform="translate(594.50,495.30) scale(1,1.06)" font-size="9.33" text-anchor="middle" font-weight="normal" fill="#111" >80</text>
<text transform="translate(621.67,495.30) scale(1,1.06)" font-size="9.33" text-anchor="middle" font-weight="normal" fill="#111" >100</text>
<text transform="translate(648.83,495.30) scale(1,1.06)" font-size="9.33" text-anchor="middle" font-weight="normal" fill="#111" >120</text>
<text transform="translate(676.00,495.30) scale(1,1.06)" font-size="9.33" text-anchor="middle" font-weight="normal" fill="#111" >140</text>
<text transform="translate(553.75,505.30) scale(1,1.06)" font-size="9.33" text-anchor="middle" font-weight="normal" fill="#111" >Temperature (°C)</text>
<text transform="translate(395.4,395.35) rotate(-90)" font-size="9.15" text-anchor="middle" fill="#111">Offset Voltage (µV)</text>
<text x="689.00" y="508.80" font-size="6.7" text-anchor="end" font-weight="normal" fill="#b4b4b4" style="stroke:#b4b4b4;stroke-width:0.25px">D014</text>
<text class="h" x="216" y="530" font-size="10.67" text-anchor="middle" fill="#111">V<tspan font-size="8" dy="2">CM</tspan><tspan dy="-2"> = V </tspan><tspan font-size="7" dy="-1" fill="#999" style="stroke:none">−</tspan></text>
<text x="217.30" y="546.00" font-size="10.67" text-anchor="middle" font-weight="normal" fill="#111" class="h">Data from 74 amplifiers</text>
<text class="h" x="206" y="566" font-size="10.67" font-weight="bold" text-anchor="middle" fill="#000"><tspan class="z" font-family="Noto Sans CJK SC, sans-serif" font-weight="900">图</tspan> 5-3. Offset Voltage vs Temperature</text>
<text class="h" x="550" y="525.3" font-size="10.67" text-anchor="middle" fill="#111">V<tspan font-size="8" dy="2">CM</tspan><tspan dy="-2"> = V+</tspan></text>
<text x="550.00" y="541.00" font-size="10.67" text-anchor="middle" font-weight="normal" fill="#111" class="h">Data from 74 amplifiers</text>
<text class="h" x="538" y="562" font-size="10.67" font-weight="bold" text-anchor="middle" fill="#000"><tspan class="z" font-family="Noto Sans CJK SC, sans-serif" font-weight="900">图</tspan> 5-4. Offset Voltage vs Temperature</text>
</svg></body></html>
